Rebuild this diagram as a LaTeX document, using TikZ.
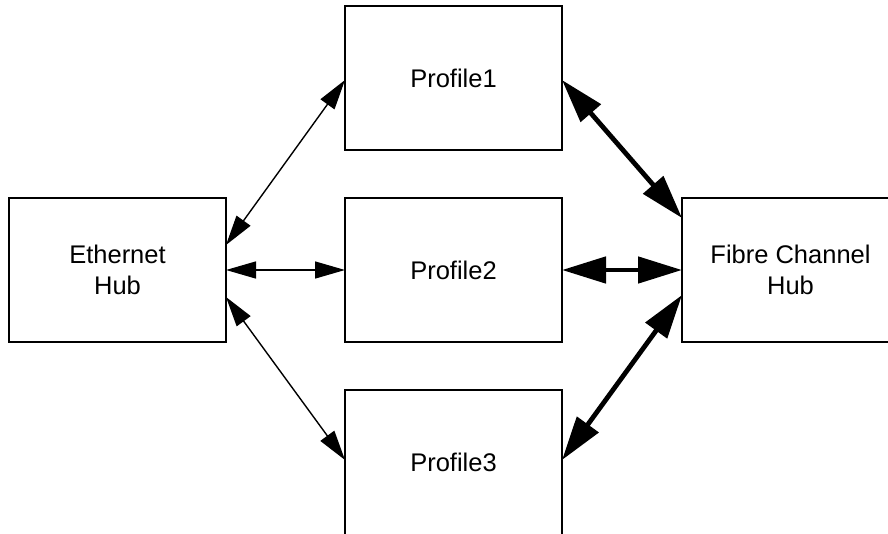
\documentclass[tikz,border=0pt]{standalone}
\usepackage{fontspec}
\setmainfont{Liberation Sans}
\usetikzlibrary{arrows.meta}
\begin{document}
\begin{tikzpicture}[x=1pt,y=-1pt,
  boxline/.style={draw=black, line width=1.2pt},
  box/.style={boxline, fill=white, minimum width=217pt, minimum height=144pt,
    inner sep=0pt, outer sep=0pt, align=center, font=\fontsize{25.5}{31}\selectfont},
  openbox/.style={box, draw=none, fill=none},
  thinlink/.style={line width=1.4pt, {Triangle[length=30pt,width=17pt]}-{Triangle[length=30pt,width=17pt]}},
  thicklink/.style={line width=4.8pt, {Triangle[length=44pt,width=26pt]}-{Triangle[length=44pt,width=26pt]}}]
\useasboundingbox (0,0) rectangle (888,533);
\clip (0,0) rectangle (888,533);
\fill[white] (0,0) rectangle (888,533);
\node[box] (eth) at (117.5,270) {Ethernet\\Hub};
\node[box] (p1) at (453.5,78) {Profile1};
\node[box] (p2) at (453.5,270) {Profile2};
\node[openbox] (p3) at (453.5,462) {Profile3};
\node[openbox] (fc) at (790.5,270) {Fibre Channel\\Hub};
\draw[boxline] (p3.north west) rectangle ([yshift=-30pt]p3.south east);
\draw[boxline] (fc.north west) rectangle ([xshift=40pt]fc.south east);
\draw[thinlink] ([yshift=25pt]eth.east) -- ([yshift=-2pt]p1.west);
\draw[thinlink] (eth.east) -- (p2.west);
\draw[thinlink] ([yshift=-27pt]eth.east) -- ([yshift=2pt]p3.west);
\draw[thicklink] ([yshift=-2pt]p1.east) -- ([yshift=52pt]fc.west);
\draw[thicklink] (p2.east) -- (fc.west);
\draw[thicklink] ([yshift=2pt]p3.east) -- ([yshift=-25pt]fc.west);
\end{tikzpicture}
\end{document}
